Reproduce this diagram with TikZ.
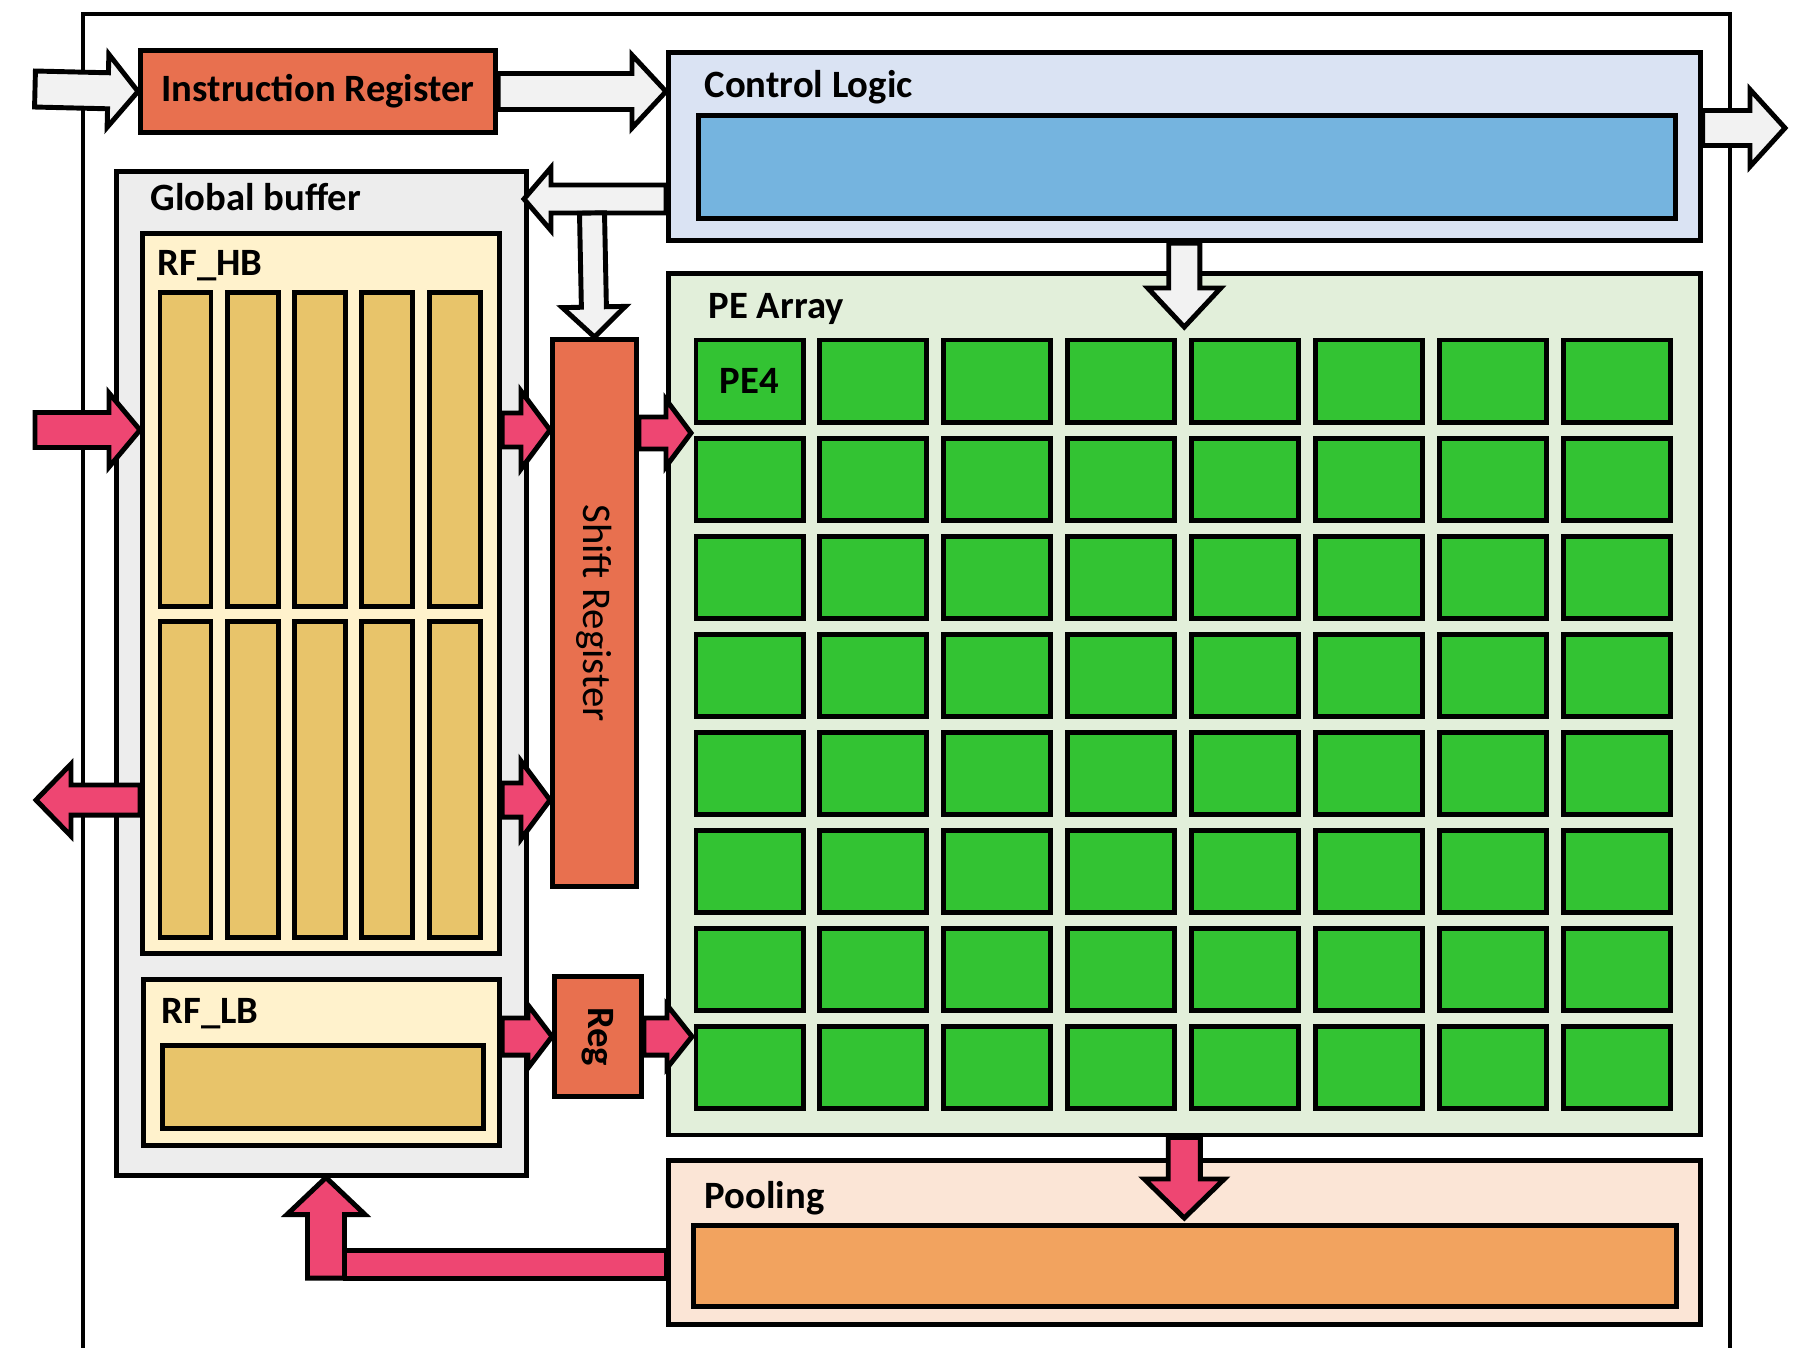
\documentclass[tikz,border=0pt]{standalone}
\usepackage{fontspec}
\setmainfont{Carlito}
\usepackage{xcolor}
\usepackage{tikz}
\usetikzlibrary{calc}

\definecolor{regred}{HTML}{E8704F}
\definecolor{ctrlbg}{HTML}{DAE3F3}
\definecolor{ctrlbar}{HTML}{75B4DF}
\definecolor{gbbg}{HTML}{EDEDED}
\definecolor{rfbg}{HTML}{FFF2CC}
\definecolor{rfcol}{HTML}{E8C46A}
\definecolor{pebg}{HTML}{E2EFDA}
\definecolor{pegreen}{HTML}{33C333}
\definecolor{poolbg}{HTML}{FBE5D6}
\definecolor{poolbar}{HTML}{F2A35F}
\definecolor{datapink}{HTML}{EE4672}
\definecolor{ctlgray}{HTML}{F2F2F2}

\newcommand{\labelfont}{\fontsize{11}{13}\selectfont\bfseries}

\tikzset{
  arrshaft/.store in=\arrshaft, arrhead/.store in=\arrhead, arrtip/.store in=\arrtip,
  arrshaft=0.16cm, arrhead=0.36cm, arrtip=0.31cm
}

% fat outlined arrow from #2 to #3
\newcommand{\blockarrow}[3][]{%
  \draw[blockline, #1] let \p1=($(#3)-(#2)$), \n1={atan2(\y1,\x1)}, \n2={veclen(\x1,\y1)} in
    [shift={(#2)}, rotate=\n1]
    (0pt,\arrshaft) -- ({\n2*1pt-\arrtip},\arrshaft) -- ({\n2*1pt-\arrtip},\arrhead)
    -- ({\n2*1pt},0pt) -- ({\n2*1pt-\arrtip},-\arrhead) -- ({\n2*1pt-\arrtip},-\arrshaft)
    -- (0pt,-\arrshaft) -- cycle;%
}

\begin{document}
\begin{tikzpicture}[x=0.01cm, y=-0.01cm, font=\fontsize{11.6}{14}\selectfont,
    box/.style={draw, line width=1.4pt, anchor=north west, inner sep=0pt},
    lbl/.style={anchor=base west, inner sep=0pt, font=\labelfont},
    rfcolumn/.style={draw, line width=1.4pt, fill=rfcol, minimum width=0.51cm, inner sep=0pt},
    pecell/.style={draw, line width=1.4pt, fill=pegreen, minimum width=1.07cm, minimum height=0.82cm, inner sep=0pt},
    blockline/.style={draw, line width=1.4pt}]
  \useasboundingbox (0,0) rectangle (1801,1347);

  % chip outline
  \draw[line width=1.2pt] (83,1360) -- (83,14) -- (1730,14) -- (1730,1360);

  \node[box, fill=regred, minimum width=3.55cm, minimum height=0.82cm, font=\labelfont] (ir) at (138,48) {Instruction Register};

  \node[box, fill=ctrlbg, minimum width=10.31cm, minimum height=1.88cm] (cl) at (666,50) {};
  \node[lbl] (cltext) at (704,97) {Control Logic};
  \node[box, fill=ctrlbar, minimum width=9.76cm, minimum height=1.03cm] (clbar) at (696,113) {};

  % global buffer
  \node[box, fill=gbbg, minimum width=4.10cm, minimum height=10.03cm] (gb) at (114,169) {};
  \node[lbl] (gbtext) at (150,210) {Global buffer};
  \node[box, fill=rfbg, minimum width=3.57cm, minimum height=7.20cm] (rfhb) at (140,231) {};
  \node[lbl] (rfhbtext) at (157,275) {RF\_HB};
  \foreach \i in {0,...,4} {
    \node[rfcolumn, minimum height=3.13cm] (hbt\i) at ({185.5+67.3*\i},449.5) {};
    \node[rfcolumn, minimum height=3.15cm] (hbb\i) at ({185.5+67.3*\i},779.5) {};
  }
  \node[box, fill=rfbg, minimum width=3.56cm, minimum height=1.66cm] (rflb) at (141,977) {};
  \node[lbl] (rflbtext) at (161,1023) {RF\_LB};
  \node[box, fill=rfcol, minimum width=3.21cm, minimum height=0.83cm] (rflbbar) at (160,1043) {};

  \node[box, fill=regred, minimum width=0.84cm, minimum height=5.47cm] (sr) at (550,337) {};
  \node[rotate=-90] (srtext) at (sr.center) {Shift Register};
  \node[box, fill=regred, minimum width=0.87cm, minimum height=1.20cm] (reg) at (552,974) {};
  \node[rotate=-90, font=\labelfont] (regtext) at (reg.center) {Reg};

  % PE array
  \node[box, fill=pebg, minimum width=10.31cm, minimum height=8.61cm] (pe) at (666,271) {};
  \node[lbl] (petext) at (708,318) {PE Array};
  \foreach \i in {0,...,7}
    \foreach \j in {0,...,7}
      \node[pecell] (pe\i\j) at ({749.5+123.9*\i},{381+98.1*\j}) {};
  \node[font=\labelfont] (pe4) at (pe00) {PE4};

  \node[box, fill=poolbg, minimum width=10.31cm, minimum height=1.64cm] (pool) at (666,1158) {};
  \node[lbl] (pooltext) at (704,1208) {Pooling};
  \node[box, fill=poolbar, minimum width=9.82cm, minimum height=0.81cm] (poolbar) at (691,1223) {};

  % control paths
  \coordinate (irin) at (35,89);
  \coordinate (clout) at (1785,128);
  \coordinate (gbin) at (524,199);
  \coordinate (srtop) at (592,213);
  \coordinate (petip) at ($(pe.north)+(0,56)$);
  \blockarrow[fill=ctlgray, arrshaft=0.18cm, arrhead=0.365cm, arrtip=0.30cm]{irin}{ir.west}
  \blockarrow[fill=ctlgray, arrshaft=0.18cm, arrhead=0.365cm, arrtip=0.34cm]{ir.east}{cl.west |- ir.east}
  \blockarrow[fill=ctlgray, arrshaft=0.175cm, arrhead=0.385cm, arrtip=0.35cm]{cl.east |- clout}{clout}
  \blockarrow[fill=ctlgray, arrshaft=0.14cm, arrhead=0.315cm, arrtip=0.27cm]{cl.west |- gbin}{gbin}
  \blockarrow[fill=ctlgray, arrshaft=0.125cm, arrhead=0.315cm, arrtip=0.30cm]{srtop}{sr.north}
  \blockarrow[fill=ctlgray, arrshaft=0.155cm, arrhead=0.365cm, arrtip=0.39cm]{cl.south}{petip}

  % data paths
  \coordinate (hbin) at (35,430);
  \coordinate (hbout) at (36,800);
  \coordinate (srpe) at ($(pe.west |- hbin)+(25,3)$);
  \coordinate (regpe) at ($(pe.west |- reg.east)+(26,0)$);
  \coordinate (gbup) at (326,1278);
  \coordinate (barend) at (345,1250);
  \coordinate (pooltip) at ($(pool.north)+(0,60)$);
  \blockarrow[fill=datapink, arrshaft=0.175cm, arrhead=0.37cm, arrtip=0.31cm]{hbin}{rfhb.west |- hbin}
  \blockarrow[fill=datapink, arrshaft=0.15cm, arrhead=0.36cm, arrtip=0.35cm]{rfhb.west |- hbout}{hbout}
  \blockarrow[fill=datapink, arrshaft=0.17cm, arrhead=0.39cm, arrtip=0.29cm]{rfhb.east |- hbin}{sr.west |- hbin}
  \blockarrow[fill=datapink, arrshaft=0.17cm, arrhead=0.39cm, arrtip=0.29cm]{rfhb.east |- hbout}{sr.west |- hbout}
  \blockarrow[fill=datapink, arrshaft=0.16cm, arrhead=0.335cm, arrtip=0.25cm]{sr.east |- srpe}{srpe}
  \blockarrow[fill=datapink, arrshaft=0.185cm, arrhead=0.315cm, arrtip=0.24cm]{rflb.east |- reg.west}{reg.west}
  \blockarrow[fill=datapink, arrshaft=0.185cm, arrhead=0.315cm, arrtip=0.25cm]{reg.east}{regpe}
  \blockarrow[fill=datapink, arrshaft=0.16cm, arrhead=0.40cm, arrtip=0.39cm]{pe.south}{pooltip}
  \blockarrow[fill=datapink, arrshaft=0.185cm, arrhead=0.39cm, arrtip=0.37cm]{gbup}{gb.south -| gbup}
  \draw[blockline, fill=datapink] (barend) rectangle (pool.west |- gbup);
\end{tikzpicture}
\end{document}
